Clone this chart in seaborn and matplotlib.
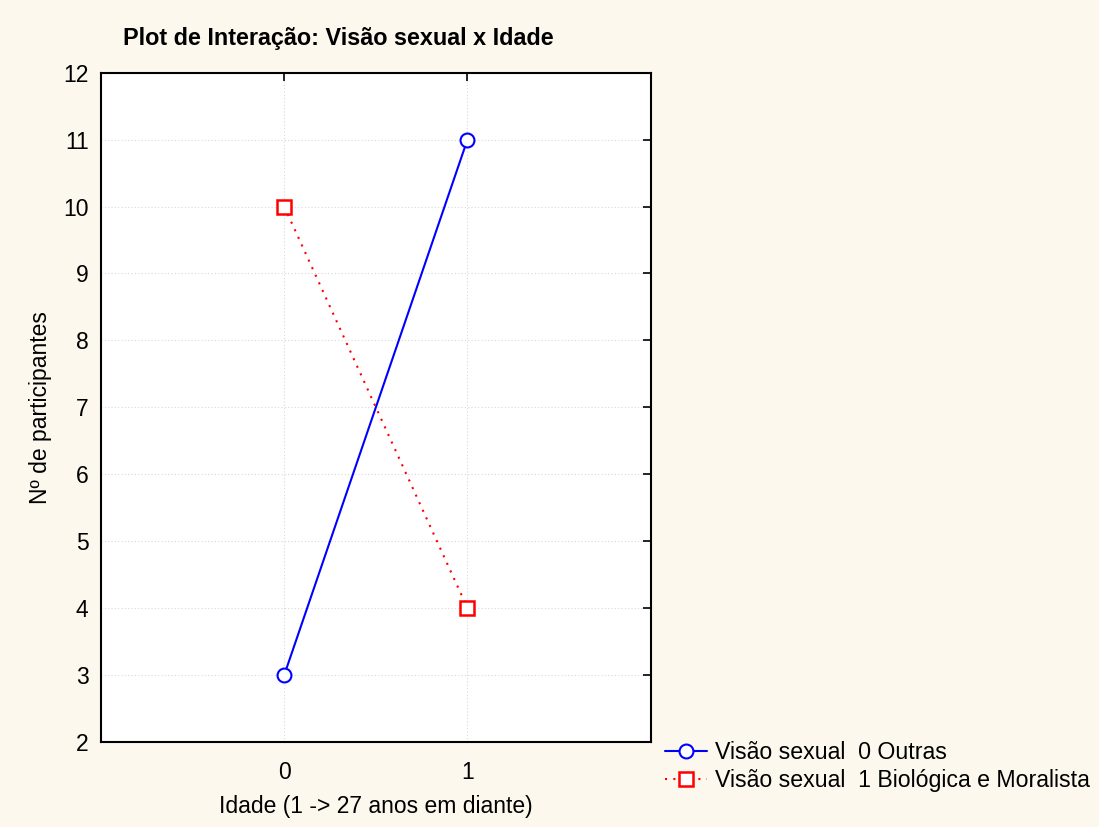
import matplotlib
matplotlib.use('agg')
import matplotlib.pyplot as plt
import seaborn as sns
import pandas as pd

# Data
idade = [0, 1]
outras = [3, 11]
biologica = [10, 4]
series_labels = ['Visão sexual  0 Outras', 'Visão sexual  1 Biológica e Moralista']

sns.set_style('white')
plt.rcParams['font.family'] = ['Liberation Sans', 'DejaVu Sans']
plt.rcParams['text.color'] = 'black'
plt.rcParams['axes.labelcolor'] = 'black'

df = pd.DataFrame({
    'idade': idade * 2,
    'n': outras + biologica,
    'grupo': [series_labels[0]] * 2 + [series_labels[1]] * 2,
})

bg = '#fdf8ee'
fig = plt.figure(figsize=(10.99, 8.27), dpi=100, facecolor=bg)
ax = fig.add_axes([0.092, 0.103, 0.5, 0.809])
ax.set_facecolor('white')

sns.lineplot(data=df[df['grupo'] == series_labels[0]], x='idade', y='n', ax=ax,
             color='blue', marker='o', markersize=10, markerfacecolor='white',
             markeredgecolor='blue', markeredgewidth=1.5, linewidth=1.5,
             label=series_labels[0], legend=False)
sns.lineplot(data=df[df['grupo'] == series_labels[1]], x='idade', y='n', ax=ax,
             color='red', marker='s', markersize=10, markerfacecolor='white',
             markeredgecolor='red', markeredgewidth=1.8, linewidth=1.5,
             linestyle=(0, (1, 3)), label=series_labels[1], legend=False)

ax.set_xlim(-1, 2)
ax.set_ylim(2, 12)
ax.set_xticks([0, 1])
ax.set_yticks(range(2, 13))
ax.grid(True, color='#d8d8d8', linestyle=(0, (1, 2)), linewidth=0.8)
ax.tick_params(direction='in', length=6, width=1.2, labelsize=16.5, top=True, right=True,
               colors='black', labelcolor='black')
ax.tick_params(axis='x', pad=14)
ax.tick_params(axis='y', pad=9)
for s in ax.spines.values():
    s.set_color('black')
    s.set_linewidth(1.5)
    s.set_visible(True)

ax.set_xlabel('Idade (1 -> 27 anos em diante)', fontsize=16.5, labelpad=8)
ax.set_ylabel('Nº de participantes', fontsize=16.5, labelpad=8)

fig.text(123 / 1099, 1 - 38 / 827, 'Plot de Interação: Visão sexual x Idade',
         fontsize=16.8, fontweight='bold', ha='left', va='center')

handles, labels = ax.get_legend_handles_labels()
fig.legend(handles, labels, loc='upper left', bbox_to_anchor=(0.597, 1 - 732 / 827),
           frameon=False, fontsize=16.7, handlelength=1.8, handletextpad=0.35,
           labelspacing=0.2, borderaxespad=0)

fig.savefig('out.png', dpi=100, facecolor=bg)
